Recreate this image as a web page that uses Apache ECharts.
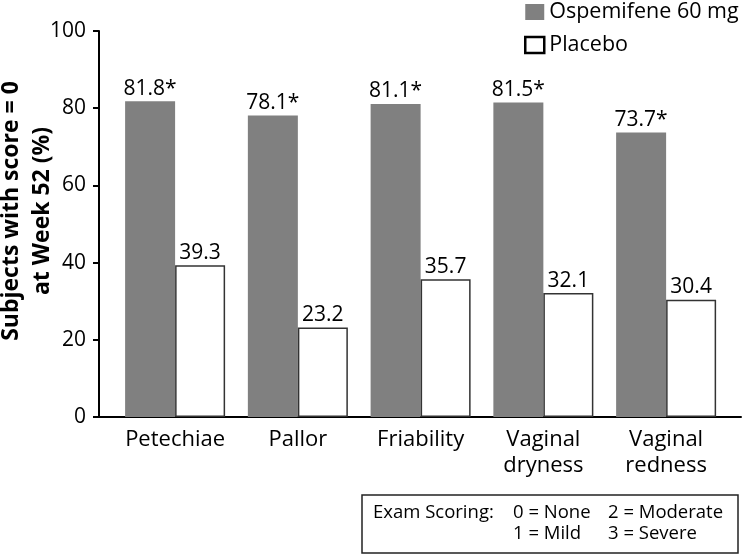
<!DOCTYPE html>
<html>
<head>
<meta charset="utf-8">
<script src="https://cdn.jsdelivr.net/npm/echarts@6/dist/echarts.min.js"></script>
<style>html,body{margin:0;padding:0;background:#fff}#c{width:742px;height:555px}</style>
</head>
<body>
<div id="c"></div>
<script>
const categories = ['Petechiae', 'Pallor', 'Friability', 'Vaginal\ndryness', 'Vaginal\nredness'];
const ospemifene = [81.8, 78.1, 81.1, 81.5, 73.7];
const placebo = [39.3, 23.2, 35.7, 32.1, 30.4];
const seriesNames = ['Ospemifene 60 mg', 'Placebo'];
const yTicks = [0, 20, 40, 60, 80, 100];
const yTitle = 'Subjects with score = 0\nat Week 52 (%)';
const scoringLines = [['Exam Scoring:', '0 = None', '2 = Moderate'], ['', '1 = Mild', '3 = Severe']];

const FONT = 'Open Sans';
const chart = echarts.init(document.getElementById('c'), null, {renderer: 'canvas'});
const catIdx = categories.map((_, i) => i);

chart.setOption({
  animation: false,
  textStyle: {fontFamily: FONT, color: '#000'},
  grid: {left: 99, right: 1, top: 31, bottom: 138, outerBoundsMode: 'none', containLabel: false},
  legend: {
    orient: 'vertical', left: 524, top: 1, itemWidth: 19, itemHeight: 16, itemGap: 11,
    icon: 'rect', padding: [0, 0, 0, 0],
    textStyle: {fontSize: 21.5, fontFamily: FONT, color: '#000', lineHeight: 22},
    data: [
      {name: seriesNames[0], itemStyle: {color: '#808080', borderWidth: 0}},
      {name: seriesNames[1], itemStyle: {color: '#fff', borderColor: '#000', borderWidth: 2.5}}
    ]
  },
  xAxis: {
    type: 'value', min: -0.62, max: 4.61,
    axisLine: {show: true, onZero: false, lineStyle: {color: '#000', width: 2}},
    axisTick: {show: false},
    splitLine: {show: false},
    axisLabel: {
      customValues: catIdx,
      margin: 10, fontSize: 22, lineHeight: 26, color: '#000', fontFamily: FONT,
      formatter: v => categories[Math.round(v)] || ''
    }
  },
  yAxis: {
    type: 'value', min: 0, max: 100, interval: 20,
    axisLine: {show: true, onZero: false, lineStyle: {color: '#000', width: 2}},
    axisTick: {show: true, length: 6, lineStyle: {color: '#000', width: 2}},
    splitLine: {show: false},
    axisLabel: {margin: 13, fontSize: 21, color: '#000', fontFamily: FONT,
      customValues: yTicks}
  },
  series: [
    {
      name: seriesNames[0], type: 'bar', barWidth: 50, barGap: '0%',
      itemStyle: {color: '#808080'},
      label: {show: true, position: 'top', distance: 2, fontSize: 21, color: '#000', fontFamily: FONT,
        formatter: p => p.value[1].toFixed(1) + '*'},
      data: ospemifene.map((v, i) => [i, v])
    },
    {
      name: seriesNames[1], type: 'bar', barWidth: 50, barGap: '0%',
      itemStyle: {color: '#fff', borderColor: '#333', borderWidth: 1.5},
      label: {show: true, position: 'top', distance: 2, fontSize: 21, color: '#000', fontFamily: FONT,
        formatter: p => p.value[1].toFixed(1)},
      data: placebo.map((v, i) => [i, v])
    }
  ],
  graphic: [
    {
      type: 'text', x: 27, y: 211, rotation: Math.PI / 2,
      style: {text: yTitle, font: 'bold 23px "' + FONT + '"', fill: '#000', align: 'center', verticalAlign: 'middle', lineHeight: 31}
    },
    {
      type: 'rect', shape: {x: 362, y: 495, width: 376, height: 58},
      style: {fill: '#fff', stroke: '#222', lineWidth: 1.5}
    },
    ...scoringLines.flatMap((row, r) => row.map((t, c) => ({
      type: 'text', x: [373, 513, 608][c], y: 513 + r * 21,
      style: {text: t, font: '18.5px "' + FONT + '"', fill: '#000', verticalAlign: 'middle'}
    })))
  ]
});
</script>
</body>
</html>
